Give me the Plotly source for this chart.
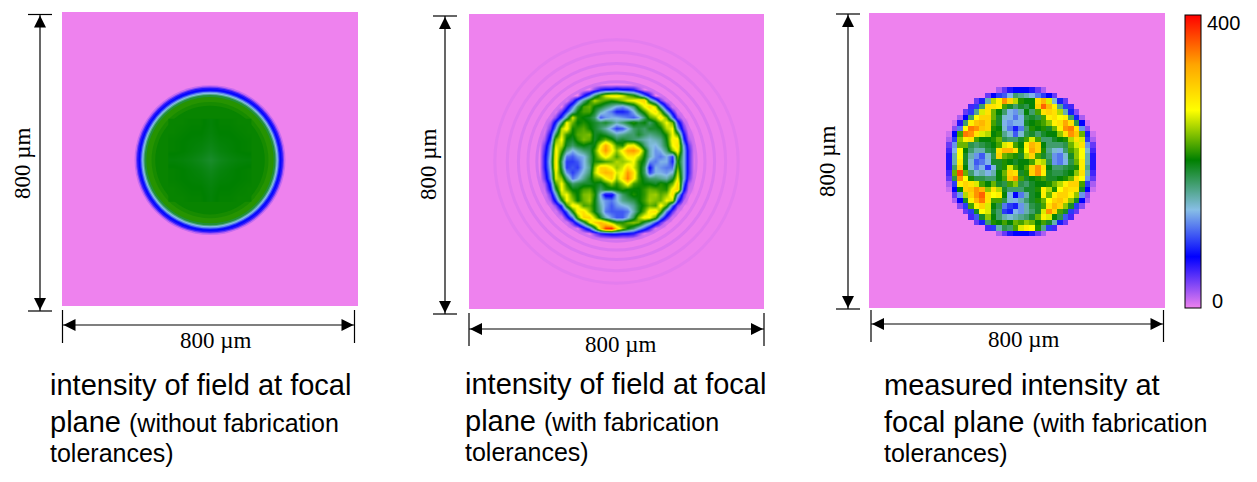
import numpy as np
import plotly.graph_objects as go
from plotly.colors import sample_colorscale

W, H = 1257, 482

# colour scale
scale = [[0.0, "#EE82EE"], [0.175, "#0000FF"], [0.335, "#87BEE6"], [0.505, "#008000"],
         [0.675, "#FFFF00"], [0.83, "#FFA500"], [1.0, "#FF0000"]]

# panel 1: ring radius (um) and intensity, outermost first
ring_radius = [204, 200, 197, 193, 189, 186, 183, 180, 177, 172, 158, 148]
ring_value = [12, 35, 58, 72, 85, 115, 135, 160, 185, 212, 208, 204]

# panel 1: inner part of the disc, 25 um cells
ideal_core = [
    [204, 204, 203, 203, 200, 203, 203, 204, 204],
    [204, 203, 202, 202, 199, 202, 202, 203, 204],
    [203, 202, 201, 200, 197, 200, 201, 202, 203],
    [203, 202, 200, 198, 194, 198, 200, 202, 203],
    [200, 199, 197, 194, 189, 194, 197, 199, 200],
    [203, 202, 200, 198, 194, 198, 200, 202, 203],
    [203, 202, 201, 200, 197, 200, 201, 202, 203],
    [204, 203, 202, 202, 199, 202, 202, 203, 204],
    [204, 204, 203, 203, 200, 203, 203, 204, 204],
]

# panel 2: faint ripples outside the disc
ripple_radius = [216, 240, 266, 296, 330]
ripple_value = [11, 7, 7, 5, 4]

# panels 2 and 3: 15 um cells, rows top to bottom, each row centred on the disc
simulated_rows = [
    [],
    [30, 60, 70, 70, 80, 70, 70, 60, 30],
    [60, 110, 170, 220, 260, 280, 280, 260, 230, 210, 170, 110, 60],
    [40, 100, 160, 210, 250, 230, 220, 210, 220, 240, 260, 270, 290, 300, 170, 110, 40],
    [50, 110, 170, 220, 230, 200, 190, 170, 150, 130, 120, 140, 170, 220, 270, 300, 250, 150, 60],
    [40, 90, 150, 200, 220, 220, 190, 150, 130, 110, 80, 80, 90, 130, 180, 220, 260, 290, 230, 130, 50],
    [30, 90, 160, 260, 210, 200, 190, 170, 100, 120, 130, 130, 120, 110, 100, 120, 170, 220, 240, 290, 230, 110, 30],
    [20, 80, 170, 270, 230, 200, 210, 200, 190, 180, 190, 170, 150, 170, 190, 210, 190, 200, 170, 200, 230, 270, 230, 90, 20],
    [40, 120, 250, 280, 205, 215, 225, 205, 190, 170, 150, 120, 90, 100, 130, 170, 180, 170, 190, 190, 200, 250, 270, 130, 40],
    [10, 70, 180, 260, 215, 200, 225, 230, 235, 190, 200, 190, 170, 150, 160, 170, 170, 190, 170, 160, 170, 180, 210, 270, 220, 70, 10],
    [20, 90, 230, 270, 200, 190, 215, 235, 225, 190, 210, 230, 210, 180, 190, 180, 170, 160, 150, 140, 150, 160, 200, 280, 280, 90, 20],
    [40, 120, 260, 250, 190, 170, 190, 200, 190, 200, 270, 330, 270, 220, 210, 270, 280, 230, 170, 140, 130, 150, 190, 270, 290, 130, 40],
    [50, 130, 280, 220, 160, 130, 150, 170, 180, 220, 290, 340, 280, 240, 280, 330, 340, 310, 210, 150, 120, 130, 170, 240, 280, 140, 50],
    [60, 140, 290, 190, 110, 100, 120, 130, 170, 210, 250, 280, 250, 220, 250, 280, 280, 250, 200, 150, 120, 110, 130, 90, 230, 140, 50],
    [60, 150, 290, 170, 90, 90, 100, 130, 170, 210, 210, 220, 230, 250, 240, 250, 270, 220, 190, 120, 110, 130, 130, 80, 210, 140, 50],
    [60, 140, 290, 180, 90, 100, 90, 130, 160, 240, 300, 300, 270, 240, 260, 300, 260, 220, 170, 70, 130, 120, 110, 110, 230, 140, 50],
    [50, 130, 270, 200, 120, 90, 110, 140, 170, 250, 300, 320, 310, 260, 270, 340, 290, 220, 170, 90, 130, 130, 120, 140, 250, 140, 50],
    [40, 120, 260, 240, 170, 110, 130, 160, 190, 220, 230, 270, 300, 240, 290, 350, 280, 220, 190, 170, 170, 160, 150, 190, 270, 140, 40],
    [20, 90, 220, 270, 210, 170, 180, 190, 190, 200, 190, 210, 240, 210, 240, 280, 220, 210, 200, 200, 190, 210, 200, 230, 300, 110, 20],
    [10, 70, 180, 270, 230, 200, 200, 220, 225, 200, 170, 190, 190, 200, 210, 200, 200, 200, 215, 230, 225, 215, 210, 280, 300, 80, 10],
    [40, 130, 250, 270, 220, 200, 235, 240, 210, 130, 60, 60, 130, 170, 190, 210, 200, 215, 240, 245, 225, 240, 290, 150, 40],
    [20, 80, 190, 270, 240, 200, 230, 245, 200, 140, 120, 110, 130, 160, 170, 180, 200, 220, 245, 235, 230, 270, 250, 90, 20],
    [30, 90, 210, 280, 270, 220, 225, 200, 150, 120, 100, 120, 130, 140, 160, 190, 210, 230, 220, 280, 220, 100, 30],
    [40, 100, 200, 280, 290, 240, 200, 160, 110, 100, 100, 100, 110, 150, 190, 230, 280, 290, 220, 110, 40],
    [50, 110, 220, 300, 300, 250, 190, 150, 120, 100, 100, 130, 180, 240, 280, 270, 220, 120, 50],
    [40, 100, 170, 260, 300, 320, 290, 240, 210, 210, 230, 240, 230, 180, 150, 90, 40],
    [50, 100, 180, 300, 380, 390, 300, 240, 200, 170, 130, 90, 50],
    [30, 60, 70, 80, 80, 70, 70, 60, 30],
    [],
]

measured_rows = [
    [],
    [20, 40, 60, 70, 70, 70, 60, 40, 20],
    [40, 70, 90, 100, 130, 170, 160, 150, 130, 110, 90, 70, 40],
    [40, 80, 150, 250, 280, 340, 300, 250, 210, 200, 200, 290, 320, 260, 140, 80, 40],
    [50, 90, 170, 290, 290, 280, 220, 190, 170, 190, 180, 200, 300, 360, 320, 280, 160, 90, 50],
    [40, 90, 160, 260, 290, 230, 200, 170, 130, 120, 150, 200, 170, 220, 290, 300, 290, 250, 150, 80, 30],
    [20, 70, 170, 270, 300, 300, 230, 190, 140, 130, 110, 130, 180, 190, 180, 220, 280, 290, 270, 280, 170, 80, 20],
    [10, 60, 170, 280, 310, 320, 300, 220, 190, 130, 120, 130, 130, 190, 200, 210, 220, 240, 280, 290, 330, 290, 180, 70, 10],
    [30, 110, 270, 350, 340, 310, 300, 210, 200, 140, 110, 80, 110, 170, 210, 200, 210, 190, 230, 280, 340, 350, 290, 120, 30],
    [10, 70, 220, 350, 340, 290, 260, 250, 200, 210, 160, 140, 100, 140, 180, 190, 170, 190, 200, 200, 240, 290, 340, 310, 230, 80, 10],
    [20, 90, 240, 280, 290, 220, 200, 200, 210, 230, 180, 170, 170, 190, 220, 260, 220, 170, 170, 190, 200, 210, 250, 290, 260, 90, 20],
    [40, 120, 230, 230, 180, 170, 180, 190, 200, 220, 260, 280, 220, 200, 280, 320, 300, 200, 170, 170, 170, 180, 230, 260, 290, 120, 40],
    [50, 130, 270, 200, 170, 150, 150, 180, 190, 290, 320, 320, 290, 210, 270, 330, 300, 210, 160, 140, 130, 170, 220, 240, 270, 140, 50],
    [60, 150, 270, 190, 150, 120, 100, 140, 180, 300, 230, 220, 210, 190, 250, 300, 220, 190, 170, 120, 110, 140, 190, 240, 270, 150, 60],
    [60, 150, 280, 190, 140, 100, 110, 130, 190, 190, 210, 200, 190, 200, 200, 220, 260, 250, 180, 120, 110, 130, 180, 230, 280, 150, 60],
    [60, 170, 300, 200, 140, 110, 130, 90, 130, 190, 210, 260, 220, 200, 220, 300, 340, 290, 200, 170, 170, 180, 190, 210, 280, 160, 60],
    [50, 230, 370, 230, 170, 140, 150, 130, 150, 200, 230, 300, 290, 190, 210, 300, 340, 280, 190, 180, 180, 190, 200, 240, 290, 150, 50],
    [40, 180, 340, 270, 210, 180, 180, 170, 170, 200, 220, 310, 340, 220, 190, 200, 210, 220, 190, 190, 200, 210, 230, 290, 270, 120, 40],
    [20, 90, 280, 300, 290, 260, 220, 200, 230, 190, 180, 220, 240, 180, 170, 190, 200, 200, 210, 230, 250, 280, 300, 300, 220, 90, 20],
    [10, 70, 200, 300, 310, 340, 320, 240, 290, 250, 190, 170, 170, 170, 190, 190, 210, 280, 250, 210, 270, 300, 290, 290, 190, 70, 10],
    [40, 120, 250, 300, 340, 360, 290, 270, 280, 200, 130, 70, 110, 150, 190, 200, 280, 230, 280, 300, 300, 280, 240, 120, 30],
    [20, 70, 190, 280, 320, 350, 290, 220, 220, 180, 140, 130, 150, 170, 190, 210, 230, 270, 300, 310, 290, 240, 190, 70, 20],
    [30, 90, 220, 280, 300, 260, 200, 180, 110, 90, 80, 120, 150, 180, 190, 220, 290, 320, 300, 240, 190, 90, 30],
    [40, 90, 190, 270, 260, 190, 170, 90, 80, 130, 120, 150, 170, 190, 260, 340, 300, 220, 190, 90, 40],
    [50, 100, 190, 240, 200, 170, 150, 140, 150, 160, 170, 190, 230, 280, 260, 200, 180, 100, 50],
    [40, 80, 170, 210, 200, 220, 200, 230, 220, 240, 230, 200, 220, 190, 150, 80, 40],
    [50, 90, 150, 180, 170, 220, 260, 280, 270, 210, 160, 90, 50],
    [20, 40, 60, 70, 70, 70, 60, 40, 20],
    [],
]

panel_left = [62, 469, 869]
panel_right = [358, 764, 1165]
panel_top = [12, 14, 13]
panel_bottom = [306, 309, 308]

caption_main = ["intensity of field at focal", "intensity of field at focal", "measured intensity at"]
caption_second = ["plane", "plane", "focal plane"]
caption_small = ["(without fabrication", "(with fabrication", "(with fabrication"]
caption_x = [48, 463, 882]
caption_y = [385, 384, 385]


def px(x):
    return x / W


def py(y):
    return 1 - y / H


def line(x0, y0, x1, y1, width=1.2):
    return dict(type="line", xref="paper", yref="paper", x0=px(x0), y0=py(y0), x1=px(x1), y1=py(y1),
                line=dict(color="black", width=width))


def head(tip_x, tip_y, dx, dy):
    # filled arrow head, (dx, dy) points from the tip back along the line
    nx, ny = dy * 0.5, dx * 0.5
    path = "M {} {} L {} {} L {} {} Z".format(
        px(tip_x), py(tip_y), px(tip_x + dx + nx), py(tip_y + dy + ny), px(tip_x + dx - nx), py(tip_y + dy - ny))
    return dict(type="path", xref="paper", yref="paper", path=path, fillcolor="black", line=dict(width=0))


def note(text, x, y, size, xanchor="center", family="Liberation Sans", **kw):
    return dict(text=text, xref="paper", yref="paper", x=px(x), y=py(y), showarrow=False,
                xanchor=xanchor, yanchor="middle",
                font=dict(size=size, color="black", family=family), **kw)


def full_rows(rows):
    out = []
    for r in rows:
        pad = (29 - len(r)) // 2
        out.append([0] * pad + r + [0] * pad)
    return out


fig = go.Figure()
cells = np.arange(-14, 15) * 15

core_x = np.arange(-4, 5) * 25
fig.add_trace(go.Heatmap(z=ideal_core, x=core_x, y=core_x[::-1] - 3, coloraxis="coloraxis", zsmooth="best",
                         xaxis="x", yaxis="y"))
fig.add_trace(go.Heatmap(z=full_rows(simulated_rows), x=cells, y=cells[::-1], coloraxis="coloraxis", zsmooth="best",
                         xaxis="x2", yaxis="y2"))
fig.add_trace(go.Heatmap(z=full_rows(measured_rows), x=cells + 11, y=cells[::-1] - 4, coloraxis="coloraxis",
                         zsmooth=False, xaxis="x3", yaxis="y3"))

shapes = []
for r, v in zip(ring_radius, ring_value):
    c = sample_colorscale(scale, v / 400)[0]
    shapes.append(dict(type="circle", xref="x", yref="y", x0=-r, x1=r, y0=-r - 3, y1=r - 3,
                       fillcolor=c, line=dict(width=0), layer="below"))
for r, v in zip(ripple_radius, ripple_value):
    c = sample_colorscale(scale, v / 400)[0]
    shapes.append(dict(type="circle", xref="x2", yref="y2", x0=-r, x1=r, y0=-r, y1=r,
                       line=dict(color=c, width=3), opacity=0.7))

# dimension lines, in page pixels
v_x = [40, 445, 848]
v_top = [14.5, 16, 14]
v_bot = [311, 314, 309]
h_y = [325, 329, 324]
h_left = [62.5, 469, 871]
h_right = [354.5, 764, 1163.5]
tick_bot = [343, 346, 342]
tick_top = [310, 313, 310]
label_x = [216, 621, 1024]
label_y = [340, 344, 339]
vlabel_x = [22, 428, 828]
vlabel_y = [163, 164, 161]

annotations = []
mu = '800 <span style="font-family:Liberation Serif">µm</span>'
for i in range(3):
    shapes.append(line(v_x[i] - 12, v_top[i], v_x[i] + 12, v_top[i]))
    shapes.append(line(v_x[i] - 12, v_bot[i], v_x[i] + 12, v_bot[i]))
    shapes.append(line(v_x[i], v_top[i], v_x[i], v_bot[i]))
    shapes.append(head(v_x[i], v_top[i] + 1, 0, 12))
    shapes.append(head(v_x[i], v_bot[i] - 1, 0, -12))
    shapes.append(line(h_left[i], tick_top[i], h_left[i], tick_bot[i]))
    shapes.append(line(h_right[i], tick_top[i], h_right[i], tick_bot[i]))
    shapes.append(line(h_left[i], h_y[i], h_right[i], h_y[i]))
    shapes.append(head(h_left[i] + 1, h_y[i], 12, 0))
    shapes.append(head(h_right[i] - 1, h_y[i], -12, 0))
    annotations.append(note(mu, label_x[i], label_y[i], 23, family="Liberation Serif"))
    annotations.append(note(mu, vlabel_x[i], vlabel_y[i], 23, family="Liberation Serif", textangle=-90))
    annotations.append(note(caption_main[i], caption_x[i], caption_y[i], 29, xanchor="left"))
    annotations.append(note(caption_second[i] + ' <span style="font-size:25px">' + caption_small[i] + "</span>",
                            caption_x[i], caption_y[i] + 37, 29, xanchor="left"))
    annotations.append(note("tolerances)", caption_x[i], caption_y[i] + 68, 25, xanchor="left"))

annotations.append(note("400", 1205, 23, 20, xanchor="left"))
annotations.append(note("0", 1210, 301, 20, xanchor="left"))

layout_axes = {}
for i in range(3):
    suffix = "" if i == 0 else str(i + 1)
    layout_axes["xaxis" + suffix] = dict(domain=[px(panel_left[i]), px(panel_right[i])], range=[-400, 400],
                                         visible=False, anchor="y" + suffix)
    layout_axes["yaxis" + suffix] = dict(domain=[py(panel_bottom[i]), py(panel_top[i])], range=[-400, 400],
                                         visible=False, anchor="x" + suffix)

fig.update_layout(
    width=W, height=H, margin=dict(l=0, r=0, t=0, b=0),
    paper_bgcolor="white", plot_bgcolor="#EE82EE",
    font=dict(family="Liberation Sans"),
    shapes=shapes, annotations=annotations,
    coloraxis=dict(colorscale=scale, cmin=0, cmax=400,
                   colorbar=dict(x=px(1185), xanchor="left", xpad=0, ypad=0, y=py(15), yanchor="top",
                                 thicknessmode="pixels", thickness=16, lenmode="pixels", len=293,
                                 outlinecolor="black", outlinewidth=1, ticks="", showticklabels=False)),
    **layout_axes,
)

fig.write_html("out.html", config=dict(displayModeBar=False),
               post_script="document.body.style.margin='0';document.body.style.overflow='hidden';")
